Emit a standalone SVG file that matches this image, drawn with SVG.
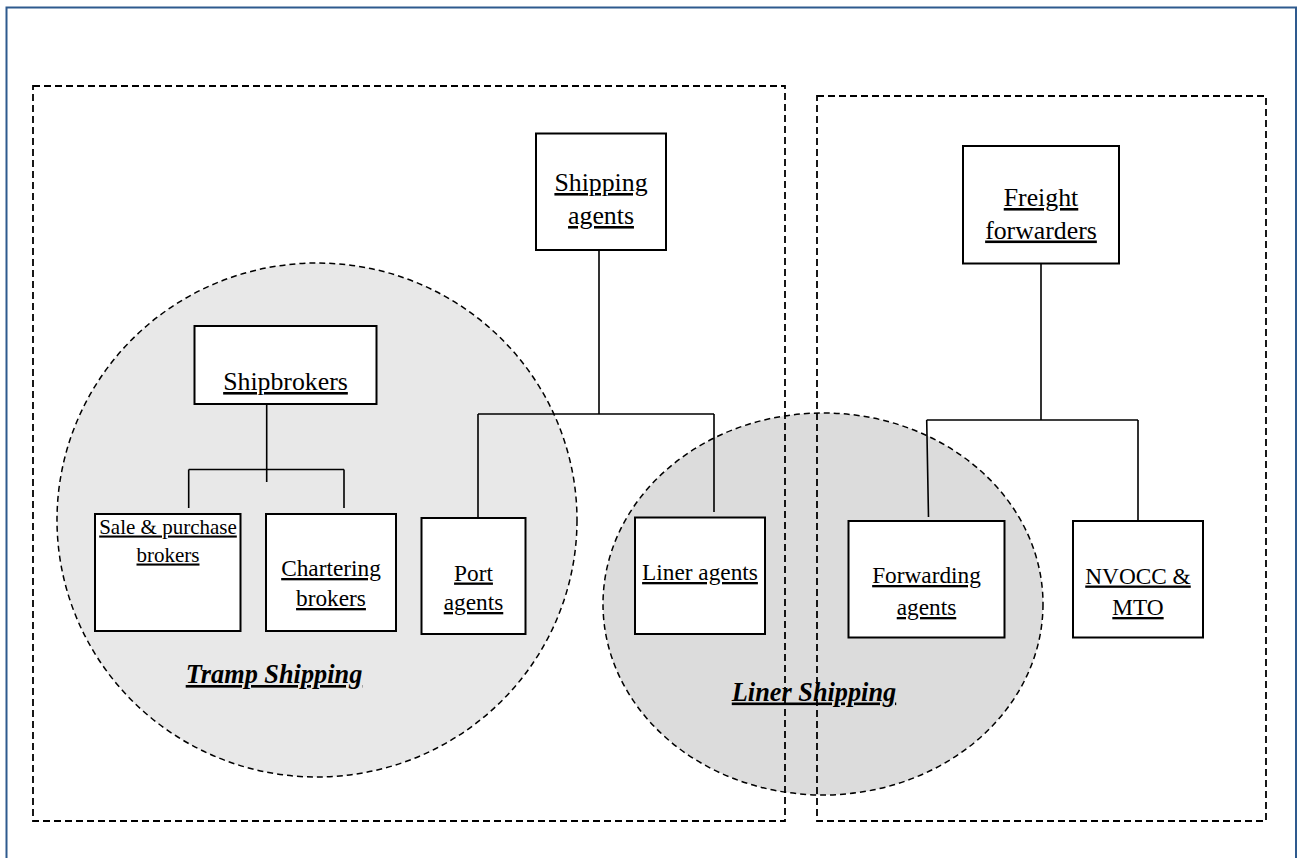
<svg xmlns="http://www.w3.org/2000/svg" width="1301" height="858" viewBox="0 0 1301 858">
<style>
.frame{fill:none;stroke:#2e5a8e;stroke-width:2}
.dash{fill:none;stroke:#000;stroke-width:1.8;stroke-dasharray:7 4}
.zone{stroke:#000;stroke-width:1.5;stroke-dasharray:6 4}
.box{fill:#fff;stroke:#000;stroke-width:2}
.conn{fill:none;stroke:#000;stroke-width:1.6}
text{font-family:"Liberation Serif","Times New Roman",serif;fill:#000;text-anchor:middle;text-decoration:underline}
.lg{font-size:25.8px}
.md{font-size:23.3px}
.sm{font-size:21px}
.lbl{font-size:26.3px;font-weight:bold;font-style:italic}
</style>
<rect x="0" y="0" width="1301" height="858" fill="#fff"/>
<rect class="frame" x="6.5" y="7.5" width="1289.5" height="860"/>
<g id="zones">
<ellipse id="tramp-zone" class="zone" cx="317" cy="520" rx="260" ry="257" fill="#e8e8e8"/>
<ellipse id="liner-zone" class="zone" cx="823" cy="604" rx="220" ry="191" fill="#dcdcdc"/>
</g>
<g id="groups">
<rect id="left-group" class="dash" x="33" y="86" width="752" height="735"/>
<rect id="right-group" class="dash" x="817" y="96" width="449" height="725"/>
</g>
<g id="connectors">
<path class="conn" d="M599 250 V414 M478 414 H714 M478 414 V520 M714 414 V512"/>
<path class="conn" d="M266.7 404 V482 M188.7 469.5 H344 M188.7 469.5 V508 M344 469.5 V508"/>
<path class="conn" d="M1041 264 V420 M926.7 420 H1138 M926.7 420 L928.5 517 M1138 420 V521"/>
</g>
<g id="shipping-agents">
<rect class="box" x="536" y="133.5" width="130" height="116.5"/>
<text class="lg" x="601" y="191">Shipping</text>
<text class="lg" x="601" y="224">agents</text>
</g>
<g id="shipbrokers">
<rect class="box" x="194.5" y="326" width="182" height="78"/>
<text class="lg" x="285.5" y="390">Shipbrokers</text>
</g>
<g id="sale-purchase-brokers">
<rect class="box" x="95" y="514" width="145.5" height="117"/>
<text class="sm" x="168" y="533.5">Sale &amp; purchase</text>
<text class="sm" x="168" y="561.5">brokers</text>
</g>
<g id="chartering-brokers">
<rect class="box" x="266" y="514" width="130" height="117"/>
<text class="md" x="331" y="576">Chartering</text>
<text class="md" x="331" y="606">brokers</text>
</g>
<g id="port-agents">
<rect class="box" x="421.5" y="518" width="104" height="116"/>
<text class="md" x="473.5" y="580.5">Port</text>
<text class="md" x="473.5" y="610">agents</text>
</g>
<g id="liner-agents">
<rect class="box" x="635" y="517.5" width="130" height="116.5"/>
<text class="md" x="700" y="580">Liner agents</text>
</g>
<g id="freight-forwarders">
<rect class="box" x="963" y="146" width="156" height="117.5"/>
<text class="lg" x="1041" y="206">Freight</text>
<text class="lg" x="1041" y="238.5">forwarders</text>
</g>
<g id="forwarding-agents">
<rect class="box" x="848.5" y="521" width="156" height="116.5"/>
<text class="md" x="926.5" y="583">Forwarding</text>
<text class="md" x="926.5" y="615">agents</text>
</g>
<g id="nvocc-mto">
<rect class="box" x="1073" y="521" width="130" height="116.5"/>
<text class="md" x="1138" y="583.5">NVOCC &amp;</text>
<text class="md" x="1138" y="615">MTO</text>
</g>
<g id="labels">
<text class="lbl" x="274" y="683">Tramp Shipping</text>
<text class="lbl" x="814" y="700.5">Liner Shipping</text>
</g>
</svg>
